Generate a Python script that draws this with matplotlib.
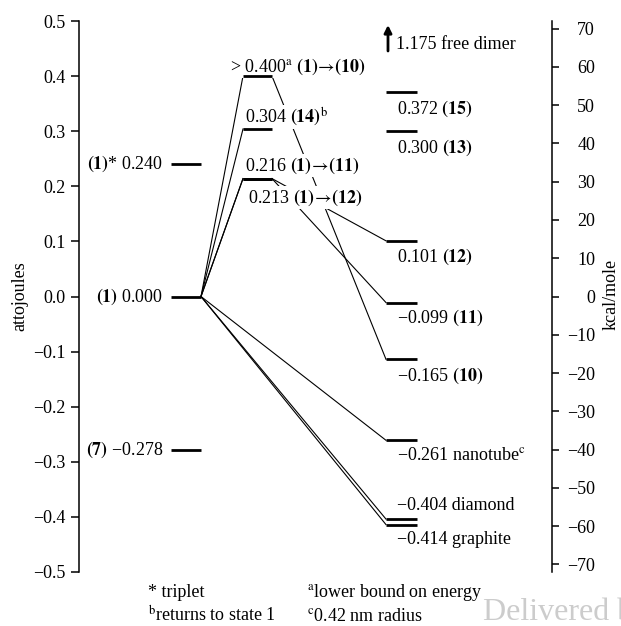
import numpy as np
import matplotlib.pyplot as plt
from matplotlib.ticker import FixedLocator, FuncFormatter

plt.rcParams['font.family'] = 'serif'
plt.rcParams['font.serif'] = ['Liberation Serif', 'DejaVu Serif']
plt.rcParams['mathtext.fontset'] = 'stix'
plt.rcParams['font.size'] = 13

AJ_TO_KCAL = 143.93

# energy levels (attojoules), as drawn in the figure
left_vals = [0.240, 0.000, -0.278]
left_labels = [r"$\mathbf{(1)}$* 0.240",
               r"$\mathbf{(1)}$ 0.000",
               r"$\mathbf{(7)}$ −0.278"]

# 0.216 and 0.213 are drawn as one bar in the figure
mid_vals = [0.400, 0.304, 0.214, 0.214]
mid_labels = [r"> 0.400$^{\rm a}$ $\mathbf{(1)}\!\rightarrow\!\mathbf{(10)}$",
              r"0.304 $\mathbf{(14)}^{\rm b}$",
              r"0.216 $\mathbf{(1)}\!\rightarrow\!\mathbf{(11)}$",
              r"0.213 $\mathbf{(1)}\!\rightarrow\!\mathbf{(12)}$"]

right_vals = [0.372, 0.300, 0.101, -0.011, -0.114, -0.261, -0.404, -0.414]
right_labels = [r"0.372 $\mathbf{(15)}$",
                r"0.300 $\mathbf{(13)}$",
                r"0.101 $\mathbf{(12)}$",
                r"−0.099 $\mathbf{(11)}$",
                r"−0.165 $\mathbf{(10)}$",
                r"−0.261 nanotube$^{\rm c}$",
                r"−0.404 diamond",
                r"−0.414 graphite"]

# which levels are joined: (column, index) -> (column, index)
links = [(("L", 1), ("M", 0)), (("L", 1), ("M", 1)), (("L", 1), ("M", 2)),
         (("L", 1), ("M", 3)), (("L", 1), ("R", 5)), (("L", 1), ("R", 6)),
         (("L", 1), ("R", 7)), (("M", 0), ("R", 4)), (("M", 2), ("R", 3)),
         (("M", 3), ("R", 2))]

kcal_ticks = np.arange(-70, 71, 10)
aj_ticks = np.round(np.arange(-0.5, 0.51, 0.1), 1)

# layout (pixel-like x units across the axes)
W, H = 621, 626
cols = {"L": (171, 201), "M": (243, 272), "R": (386, 417)}
vals = {"L": left_vals, "M": mid_vals, "R": right_vals}


def px(n):
    return n * 0.72


def fmt(v, p, nd):
    s = f"{v:.{nd}f}"
    if float(s) == 0:
        s = s.lstrip("-")
    return s.replace("-", "−")


fig = plt.figure(figsize=(W / 100, H / 100), dpi=100)
ax = fig.add_axes([79 / W, 1 - 572 / H, (552 - 79) / W, (572 - 21) / H])
ax.set_xlim(79, 552)
ax.set_ylim(-0.5, 0.5)

for s in ["top", "bottom", "right"]:
    ax.spines[s].set_visible(False)
ax.spines["left"].set_linewidth(1.1)
ax.set_xticks([])
ax.yaxis.set_major_locator(FixedLocator(aj_ticks))
ax.yaxis.set_major_formatter(FuncFormatter(lambda v, p: fmt(v, p, 1)))
ax.tick_params(axis="y", direction="out", length=5.5, width=1.1, pad=4.3, labelsize=13)

ax2 = ax.twinx()
ax2.set_ylim(-0.5 * AJ_TO_KCAL, 0.5 * AJ_TO_KCAL)
for s in ["top", "bottom", "left"]:
    ax2.spines[s].set_visible(False)
ax2.spines["right"].set_linewidth(1.1)
ax2.yaxis.set_major_locator(FixedLocator(kcal_ticks))
ax2.yaxis.set_major_formatter(FuncFormatter(lambda v, p: fmt(v, p, 0)))
ax2.tick_params(axis="y", direction="out", length=5, width=1.1, pad=26, labelsize=13)
for tl in ax2.get_yticklabels():
    tl.set_horizontalalignment("right")

# connectors
for (c1, i1), (c2, i2) in links:
    ax.plot([cols[c1][1], cols[c2][0]], [vals[c1][i1], vals[c2][i2]],
            color="k", lw=0.8, zorder=1)

# level bars
for c in cols:
    for v in vals[c]:
        ax.plot(cols[c], [v, v], color="k", lw=2.0, solid_capstyle="butt", zorder=4)

box = dict(facecolor="white", edgecolor="none", pad=0.6)

for v, t in zip(left_vals, left_labels):
    ax.annotate(t, xy=(cols["L"][0], v), xytext=(-px(8), 0), textcoords="offset points",
                ha="right", va="center", zorder=3)

mid_x = [230, 245, 245, 248]
mid_dy = [4, 6, 8, -24]
for v, t, x, dy in zip(mid_vals, mid_labels, mid_x, mid_dy):
    ax.annotate(t, xy=(x, v), xytext=(0, px(dy)), textcoords="offset points",
                ha="left", va="baseline", bbox=box, zorder=3)

right_dy = [-22, -22, -21, -20, -21, -20, 9, -19]
for v, t, dy in zip(right_vals, right_labels, right_dy):
    ax.annotate(t, xy=(397, v), xytext=(0, px(dy)), textcoords="offset points",
                ha="left", va="baseline", bbox=box, zorder=3)

# off-scale free dimer
ax.annotate("", xy=(388, (572 - 25) / 551), xytext=(388, (572 - 51) / 551),
            xycoords=("data", "axes fraction"),
            arrowprops=dict(arrowstyle="-|>", color="k", lw=2.0,
                            mutation_scale=11, shrinkA=0, shrinkB=0))
ax.text(396, (572 - 49) / 551, "1.175 free dimer", transform=ax.get_xaxis_transform(),
        ha="left", va="baseline")

fig.text(20 / W, 1 - 296 / H, "attojoules", rotation=90, ha="center", va="center", fontsize=13)
fig.text(611 / W, 1 - 294 / H, "kcal/mole", rotation=90, ha="center", va="center", fontsize=13)

# footnotes
fig.text(148 / W, 1 - 597 / H, "* triplet", va="baseline")
fig.text(148 / W, 1 - 621 / H, r"$^{\rm b}$returns to state 1", va="baseline")
fig.text(307 / W, 1 - 597 / H, r"$^{\rm a}$lower bound on energy", va="baseline")
fig.text(307 / W, 1 - 621 / H, r"$^{\rm c}$0.42 nm radius", va="baseline")
fig.text(483 / W, 1 - 620 / H, "Delivered by", va="baseline", fontsize=23, color="#cccccc")

fig.savefig("out.png", dpi=100)
